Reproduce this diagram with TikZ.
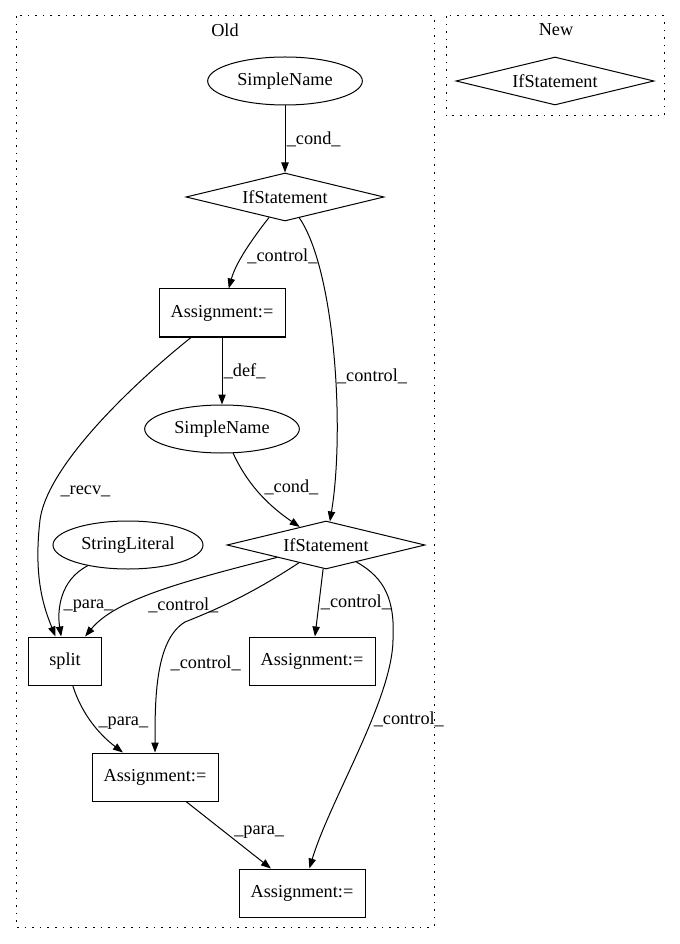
\documentclass[tikz,border=0pt]{standalone}
\usepackage{fontspec}
\setmainfont{Liberation Serif}
\usetikzlibrary{shapes.geometric,arrows.meta}
\begin{document}
\begin{tikzpicture}[x=0.75pt,y=-0.75pt,
  every node/.style={font=\fontsize{13.7}{16}\selectfont},
  ell/.style={draw,ellipse,minimum width=116pt,minimum height=36pt,inner sep=0pt,line width=0.75pt},
  dia/.style={draw,diamond,aspect=4,minimum width=148.5pt,minimum height=36pt,inner sep=0pt,line width=0.75pt},
  box/.style={draw,rectangle,minimum width=94.5pt,minimum height=36pt,inner sep=0pt,line width=0.75pt},
  conn/.style={line width=0.75pt,-{Triangle[length=7.5pt,width=5.5pt]}},
  lbl/.style={inner sep=1pt},
  cluster/.style={draw,line width=0.75pt,dash pattern=on 1.2pt off 4.5pt}
]
\useasboundingbox (0,0) rectangle (679,944);
% clusters
\draw[cluster] (16,16) rectangle (434,927);
\draw[cluster] (446,16) rectangle (664,116);
\node (oldlbl) at (225,30) {Old};
\node (newlbl) at (556,30) {New};
% nodes
\node[ell] (sn1) at (285,81) {SimpleName};
\node[dia] (if1) at (285,197) {IfStatement};
\node[box] (a1) at (222,313) {Assignment:=};
\node[ell] (sn2) at (222,429) {SimpleName};
\node[dia] (if2) at (326,545) {IfStatement};
\node[ell,minimum width=112.5pt] (sl) at (128,545) {StringLiteral};
\node[box,minimum width=55pt] (split) at (65,661) {split};
\node[box] (a2) at (312,661) {Assignment:=};
\node[box] (a3) at (155,777) {Assignment:=};
\node[box] (a4) at (302,893) {Assignment:=};
\node[dia] (ifn) at (555,81) {IfStatement};
% edges
\draw[conn] (sn1) -- (if1) node[lbl,pos=0.5,anchor=west] {\_cond\_};
\draw[conn] (if1) .. controls (253,238) and (236,262) .. (a1) node[lbl,pos=0.5,anchor=west,xshift=0pt,yshift=-4pt] {\_control\_};
\draw[conn] (if1) .. controls (335,270) and (345,430) .. (if2) node[lbl,pos=0.56,anchor=west] {\_control\_};
\draw[conn] (a1) -- (sn2) node[lbl,pos=0.5,anchor=west] {\_def\_};
\draw[conn] (sn2) .. controls (250,490) and (275,510) .. (if2) node[lbl,pos=0.45,anchor=west,xshift=2pt,yshift=5pt] {\_cond\_};
\draw[conn] (a1) .. controls (150,370) and (48,460) .. (40,520) node[lbl,pos=0.85,anchor=west,xshift=7pt] {\_recv\_}
  .. controls (33,580) and (45,610) .. (split);
\draw[conn] (sl) .. controls (60,580) and (57,610) .. (split) node[lbl,pos=0.62,anchor=west,xshift=1pt] {\_para\_};
\draw[conn] (if2) .. controls (180,582) and (115,600) .. (split) node[lbl,pos=0.55,anchor=north west] {\_control\_};
\draw[conn] (if2) .. controls (250,595) and (215,610) .. (185,622)
  .. controls (155,640) and (155,700) .. (a3) node[lbl,pos=0.42,anchor=west,xshift=6pt] {\_control\_};
\draw[conn] (if2) -- (a2) node[lbl,pos=0.5,anchor=west] {\_control\_};
\draw[conn] (if2) .. controls (385,578) and (395,600) .. (393,640)
  .. controls (392,700) and (330,800) .. (a4) node[lbl,pos=0.37,anchor=west] {\_control\_};
\draw[conn] (split) .. controls (82,715) and (100,735) .. (a3) node[lbl,pos=0.5,anchor=west,xshift=3pt] {\_para\_};
\draw[conn] (a3) -- (a4) node[lbl,pos=0.5,anchor=west,xshift=3pt,yshift=2pt] {\_para\_};
\end{tikzpicture}
\end{document}
